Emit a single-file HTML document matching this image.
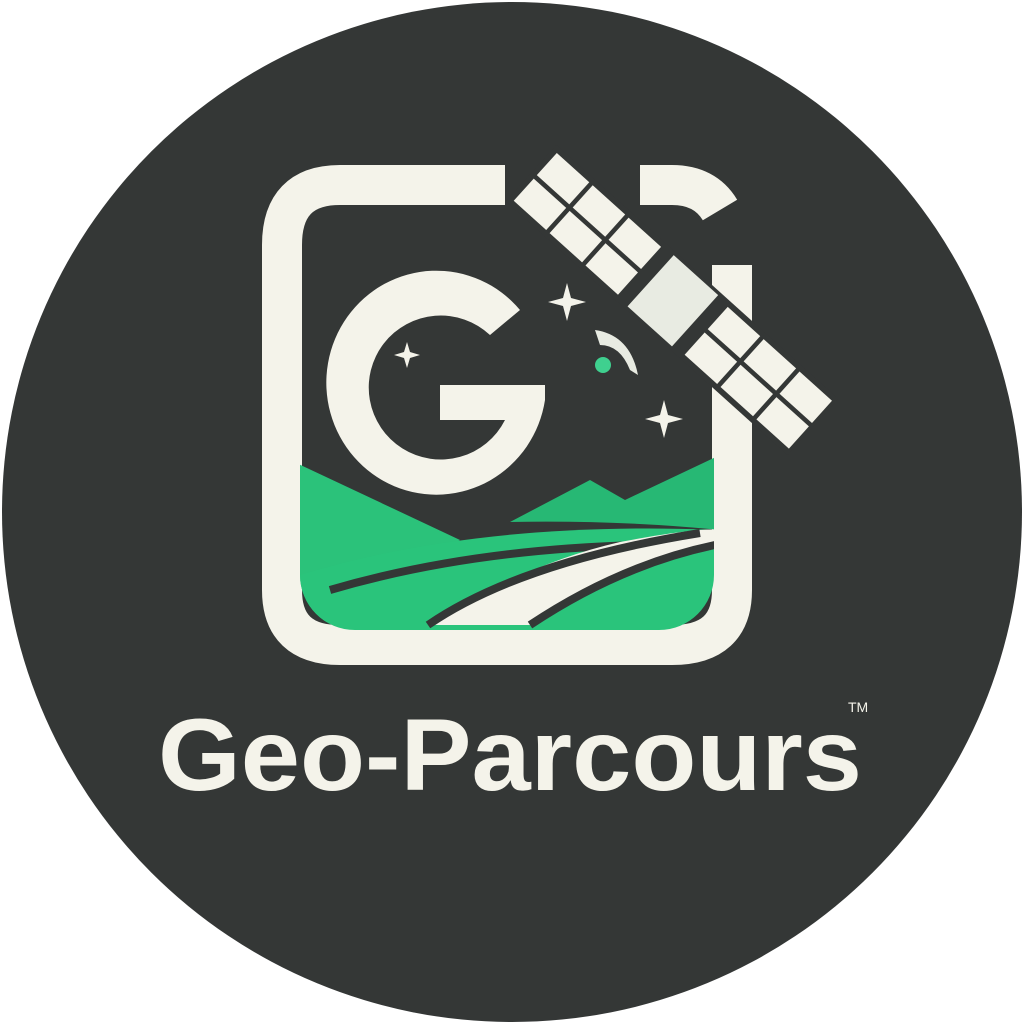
<!DOCTYPE html>
<html><head><meta charset="utf-8"><style>
html,body{margin:0;padding:0;background:#fff;width:1024px;height:1024px;overflow:hidden}
</style></head><body>
<svg width="1024" height="1024" viewBox="0 0 1024 1024" xmlns="http://www.w3.org/2000/svg">
<defs>
<clipPath id="inner"><rect x="300" y="205" width="414" height="425" rx="55"/></clipPath>
</defs>
<circle cx="512" cy="512" r="510" fill="#343736"/>
<g fill="none" stroke="#f4f3ea" stroke-width="40">
<path d="M505 185 H340 Q282 185 282 245 V590 Q282 645 340 645 H672 Q732 645 732 590 V265"/>
<path d="M640 185 H672 Q705 185 720 210"/>
</g>
<g clip-path="url(#inner)">
<path d="M290 460 L460 540 L300 640 Z" fill="#2bc27a"/>
<path d="M510 522 L590 480 L625 500 L720 455 L720 530 Q620 520 510 522 Z" fill="#27b874"/>
<path d="M300 575 Q480 520 720 530 L720 640 L300 640 Z" fill="#2ac47b"/>
<path d="M330 590 Q500 540 720 545" stroke="#343736" stroke-width="8" fill="none"/>
<path d="M435 625 Q520 565 620 542 Q700 527 720 530 L720 548 Q630 565 530 625 Z" fill="#f4f3ea"/>
<path d="M428 625 Q520 562 700 533 M530 625 Q620 565 715 545" stroke="#343736" stroke-width="8" fill="none"/>
</g>
<path d="M520 310 A110 112 0 1 0 545 400 V385 H440 V420 H505 A72 72 0 1 1 490 335 Z" fill="#f4f3ea"/>
<g transform="translate(672 300) rotate(42) scale(1.15)">
<rect x="-165" y="-33" width="330" height="66" fill="#343736"/>
<rect x="-160" y="-28" width="38" height="26" fill="#f4f3ea"/>
<rect x="-118" y="-28" width="38" height="26" fill="#f4f3ea"/>
<rect x="-76" y="-28" width="38" height="26" fill="#f4f3ea"/>
<rect x="-160" y="2" width="38" height="26" fill="#f4f3ea"/>
<rect x="-118" y="2" width="38" height="26" fill="#f4f3ea"/>
<rect x="-76" y="2" width="38" height="26" fill="#f4f3ea"/>
<rect x="-25" y="-30" width="52" height="60" fill="#e8ebe2"/>
<rect x="40" y="-28" width="38" height="26" fill="#f4f3ea"/>
<rect x="82" y="-28" width="38" height="26" fill="#f4f3ea"/>
<rect x="124" y="-28" width="38" height="26" fill="#f4f3ea"/>
<rect x="40" y="2" width="38" height="26" fill="#f4f3ea"/>
<rect x="82" y="2" width="38" height="26" fill="#f4f3ea"/>
<rect x="124" y="2" width="38" height="26" fill="#f4f3ea"/>
</g>
<path d="M595 330 Q630 335 638 375 L630 370 Q620 345 600 345 Z" fill="#e8ebe2"/>
<circle cx="603" cy="365" r="8" fill="#3fd08f"/>
<g fill="#f4f3ea">
<path d="M567 283 L571 298 L586 302 L571 306 L567 321 L563 306 L548 302 L563 298 Z"/>
<path d="M407 342 L410 352 L420 355 L410 358 L407 368 L404 358 L394 355 L404 352 Z"/>
<path d="M664 400 L668 415 L683 419 L668 423 L664 438 L660 423 L645 419 L660 415 Z"/>
</g>
<text x="158" y="790" font-family="Liberation Sans, sans-serif" font-weight="bold" font-size="102" fill="#f4f3ea" textLength="704" lengthAdjust="spacingAndGlyphs">Geo-Parcours</text>
<text x="848" y="712" font-family="Liberation Sans, sans-serif" font-size="14" fill="#f4f3ea">TM</text>
</svg>
</body></html>
